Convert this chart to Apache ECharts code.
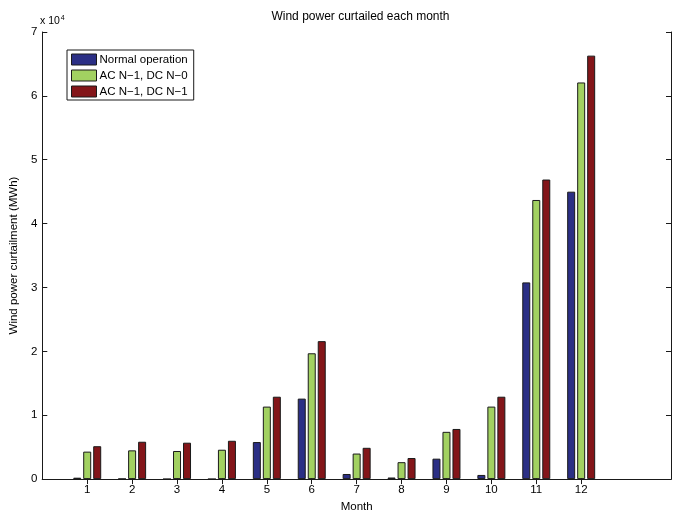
<!DOCTYPE html>
<html>
<head>
<meta charset="utf-8">
<script src="https://cdn.jsdelivr.net/npm/echarts@6/dist/echarts.min.js"></script>
<style>html,body{margin:0;padding:0;background:#fff;overflow:hidden}#c{width:678px;height:518px}</style>
</head>
<body>
<div id="c"></div>
<script>
const months = ['1','2','3','4','5','6','7','8','9','10','11','12'];
const seriesNames = ['Normal operation', 'AC N\u22121, DC N\u22120', 'AC N\u22121, DC N\u22121'];
const normalOp = [220, 50, 0, 0, 5800, 12600, 800, 250, 3200, 650, 30800, 45000];
const acN1dcN0 = [4300, 4500, 4400, 4600, 11350, 19700, 4000, 2650, 7400, 11350, 43700, 62100];
const acN1dcN1 = [5150, 5850, 5700, 6000, 12900, 21600, 4900, 3300, 7850, 12900, 46900, 66300];
const yTicks = [0, 10000, 20000, 30000, 40000, 50000, 60000, 70000];
const colors = ['#2b2f85', '#a2d161', '#831519'];

const axisCats = [''].concat(months, ['', '']);
const pad = arr => [null].concat(arr, [null, null]);
const font = 'Liberation Sans, Arial, Helvetica, sans-serif';
const lineStyle = { color: '#1a1a1a', width: 1 };

const chart = echarts.init(document.getElementById('c'), null, { renderer: 'canvas', width: 678, height: 518 });
const option = {
  animation: false,
  backgroundColor: '#fff',
  textStyle: { fontFamily: font },
  title: {
    text: 'Wind power curtailed each month',
    left: 355.5, top: 6, textAlign: 'center',
    textStyle: { fontSize: 12, fontWeight: 'normal', color: '#000', fontFamily: font }
  },
  grid: { left: 40, right: 7, top: 32, bottom: 29, containLabel: false },
  legend: {
    orient: 'vertical', left: 67, top: 50,
    padding: [3, 6, 2, 4],
    icon: 'rect',
    itemWidth: 25, itemHeight: 11, itemGap: 3,
    borderColor: '#1a1a1a', borderWidth: 1, borderRadius: 0,
    backgroundColor: '#fff',
    data: seriesNames,
    itemStyle: { borderColor: '#1a1a1a', borderWidth: 1 },
    textStyle: { fontSize: 11.5, color: '#000', fontFamily: font, lineHeight: 13, padding: [0, 0, 0, -2] }
  },
  graphic: [{
    type: 'text', left: 40, top: 15,
    style: {
      text: 'x 10{sup|4}',
      fontSize: 10.5, fontFamily: font, fill: '#000',
      rich: { sup: { fontSize: 7, verticalAlign: 'top', padding: [0, 0, 6, 1] } }
    }
  }],
  xAxis: [{
    type: 'category', data: axisCats, boundaryGap: false, position: 'bottom',
    name: 'Month', nameLocation: 'middle', nameGap: 16,
    nameTextStyle: { fontSize: 11.5, color: '#000', fontFamily: font },
    axisLine: { show: true, lineStyle: lineStyle },
    axisTick: { show: true, inside: true, length: 5, lineStyle: lineStyle,
      interval: (i, v) => v !== '' },
    axisLabel: { interval: 0, margin: 5, fontSize: 11.5, color: '#000', fontFamily: font },
    splitLine: { show: false }
  }, {
    type: 'category', data: axisCats, boundaryGap: false, position: 'top',
    axisLine: { show: true, lineStyle: lineStyle },
    axisTick: { show: true, inside: true, length: 5, lineStyle: lineStyle,
      interval: (i, v) => v !== '' },
    axisLabel: { show: false },
    splitLine: { show: false }
  }],
  yAxis: [{
    type: 'value', min: yTicks[0], max: yTicks[yTicks.length - 1], interval: yTicks[1] - yTicks[0],
    position: 'left',
    name: 'Wind power curtailment (MWh)', nameLocation: 'middle', nameGap: 8, nameRotate: 90,
    nameTextStyle: { fontSize: 11.5, color: '#000', fontFamily: font },
    axisLine: { show: true, lineStyle: lineStyle },
    axisTick: { show: true, inside: true, length: 5, lineStyle: lineStyle },
    axisLabel: { margin: 5, fontSize: 11.5, color: '#000', fontFamily: font,
      formatter: v => String(v / 10000) },
    splitLine: { show: false }
  }, {
    type: 'value', min: yTicks[0], max: yTicks[yTicks.length - 1], interval: yTicks[1] - yTicks[0],
    position: 'right',
    axisLine: { show: true, lineStyle: lineStyle },
    axisTick: { show: true, inside: true, length: 5, lineStyle: lineStyle },
    axisLabel: { show: false },
    splitLine: { show: false }
  }],
  series: [normalOp, acN1dcN0, acN1dcN1].map((d, i) => ({
    name: seriesNames[i], type: 'bar', xAxisIndex: 0, yAxisIndex: 0,
    data: pad(d), barWidth: 8, barGap: '25%',
    itemStyle: { color: colors[i], borderColor: '#1a1a1a', borderWidth: 1 }
  }))
};
chart.setOption(option);
</script>
</body>
</html>
